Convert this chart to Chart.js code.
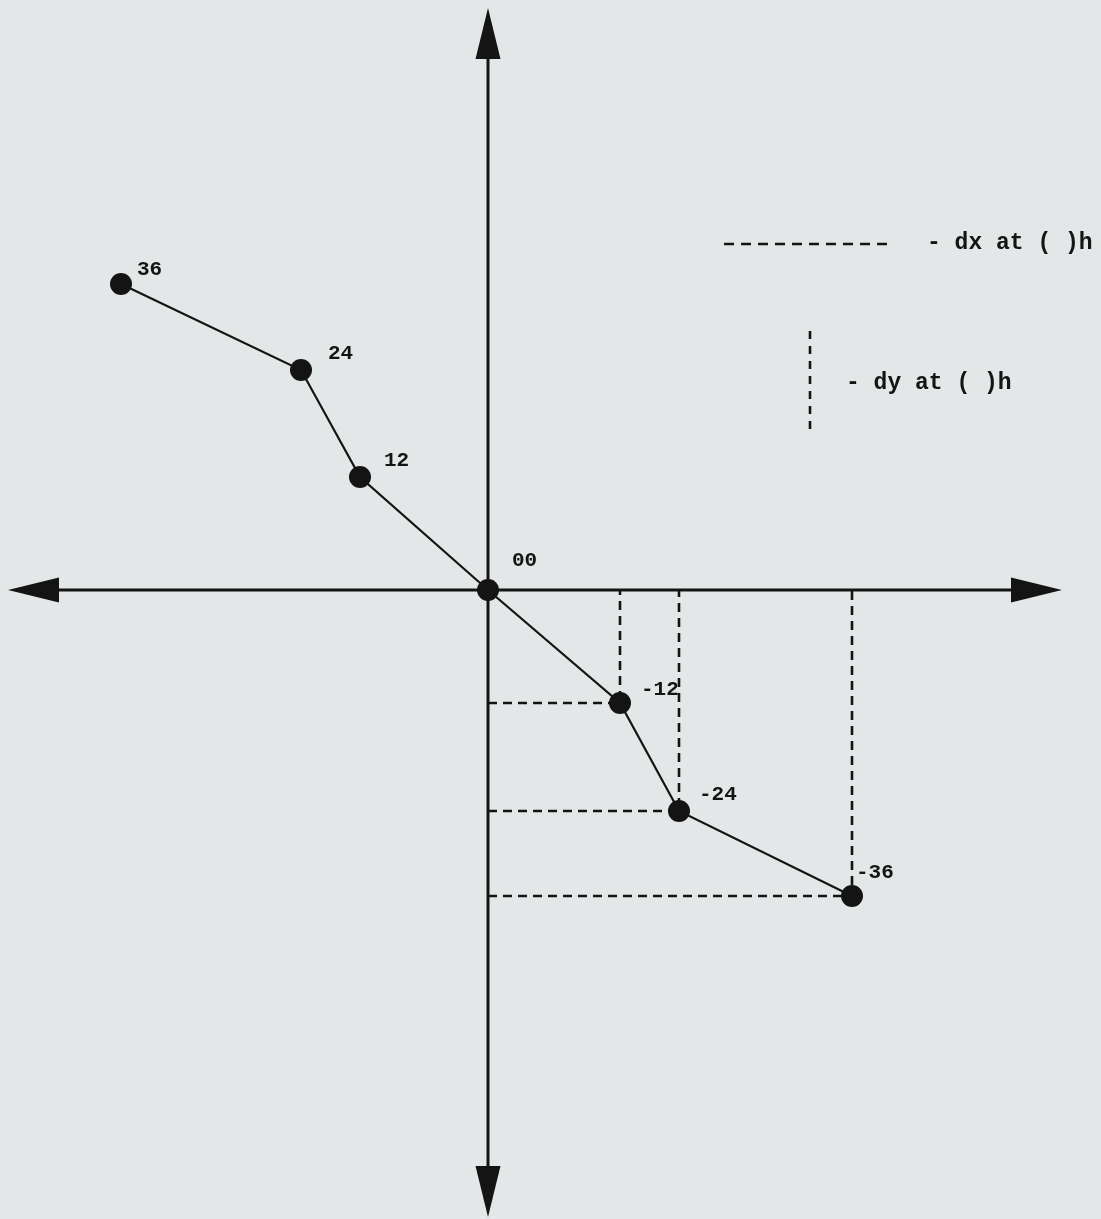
<!DOCTYPE html>
<html>
<head>
<meta charset="utf-8">
<script src="https://cdn.jsdelivr.net/npm/chart.js@4/dist/chart.umd.min.js"></script>
<style>
  html, body { margin: 0; padding: 0; background: rgb(228,231,231); }
  canvas { display: block; }
</style>
</head>
<body>
<canvas id="c" width="1101" height="1219"></canvas>
<script>
// ---- data ----
const pointLabels = ['36', '24', '12', '00', '-12', '-24', '-36'];
const dxValues = [-367, -187, -128, 0, 132, 191, 364];
const dyValues = [306, 220, 113, 0, -113, -221, -306];
const xAxisRange = [-480, 574];
const yAxisRange = [-627, 582];
const xScaleRange = [-488, 613];
const yScaleRange = [-629, 590];
const legendTexts = ['- dx at ( )h', '- dy at ( )h'];

const INK = '#141414';
const seriesData = dxValues.map((x, i) => ({ x: x, y: dyValues[i] }));

const projectionSets = [];
dxValues.forEach((x, i) => {
  if (x > 0) {
    projectionSets.push({
      data: [{ x: 0, y: dyValues[i] }, { x: x, y: dyValues[i] }, { x: x, y: 0 }],
      showLine: true, borderColor: INK, borderWidth: 2.6, borderDash: [9, 6],
      pointRadius: 0, fill: false, tension: 0
    });
  }
});

const labelOffsets = [[16, -14], [27, -16], [24, -16], [24, -29], [21, -13], [20, -16], [4, -23]];

const drawPlugin = {
  id: 'drawPlugin',
  afterDatasetsDraw(chart) {
    const ctx = chart.ctx;
    const xs = chart.scales.x, ys = chart.scales.y;
    ctx.save();
    ctx.fillStyle = INK;
    // arrowheads
    const ox = xs.getPixelForValue(0), oy = ys.getPixelForValue(0);
    const L = 51, W = 12.5;
    const lx = xs.getPixelForValue(xAxisRange[0]);
    const rx = xs.getPixelForValue(xAxisRange[1]);
    const ty = ys.getPixelForValue(yAxisRange[1]);
    const by = ys.getPixelForValue(yAxisRange[0]);
    const tri = (pts) => { ctx.beginPath(); ctx.moveTo(pts[0], pts[1]); ctx.lineTo(pts[2], pts[3]); ctx.lineTo(pts[4], pts[5]); ctx.closePath(); ctx.fill(); };
    tri([lx, oy, lx + L, oy - W, lx + L, oy + W]);
    tri([rx, oy, rx - L, oy - W, rx - L, oy + W]);
    tri([ox, ty, ox - W, ty + L, ox + W, ty + L]);
    tri([ox, by, ox - W, by - L, ox + W, by - L]);

    // point labels
    ctx.font = 'bold 21px "Liberation Mono", "DejaVu Sans Mono", monospace';
    ctx.textBaseline = 'middle';
    ctx.textAlign = 'left';
    pointLabels.forEach((t, i) => {
      const px = xs.getPixelForValue(dxValues[i]);
      const py = ys.getPixelForValue(dyValues[i]);
      ctx.fillText(t, px + labelOffsets[i][0], py + labelOffsets[i][1]);
    });

    // legend
    ctx.strokeStyle = INK;
    ctx.lineWidth = 2.6;
    ctx.setLineDash([10, 7]);
    ctx.beginPath(); ctx.moveTo(724, 244); ctx.lineTo(894, 244); ctx.stroke();
    ctx.setLineDash([8, 7]);
    ctx.beginPath(); ctx.moveTo(810, 331); ctx.lineTo(810, 434); ctx.stroke();
    ctx.setLineDash([]);
    ctx.font = 'bold 23px "Liberation Mono", "DejaVu Sans Mono", monospace';
    ctx.fillText(legendTexts[0], 927, 243);
    ctx.fillText(legendTexts[1], 846, 383);
    ctx.restore();
  }
};

new Chart(document.getElementById('c'), {
  type: 'scatter',
  data: {
    datasets: [
      {
        data: seriesData, showLine: true, borderColor: INK, borderWidth: 2.2,
        pointRadius: 11, pointBackgroundColor: INK, pointBorderColor: INK, pointBorderWidth: 0,
        tension: 0, fill: false
      },
      ...projectionSets,
      {
        data: [{ x: xAxisRange[0] + 20, y: 0 }, { x: xAxisRange[1] - 20, y: 0 }],
        showLine: true, borderColor: INK, borderWidth: 3, pointRadius: 0
      },
      {
        data: [{ x: 0, y: yAxisRange[1] - 20 }, { x: 0, y: yAxisRange[0] + 20 }],
        showLine: true, borderColor: INK, borderWidth: 3, pointRadius: 0
      }
    ]
  },
  options: {
    responsive: false,
    maintainAspectRatio: false,
    animation: false,
    layout: { padding: 0, autoPadding: false },
    plugins: { legend: { display: false }, tooltip: { enabled: false } },
    scales: {
      x: { type: 'linear', min: xScaleRange[0], max: xScaleRange[1], display: false },
      y: { type: 'linear', min: yScaleRange[0], max: yScaleRange[1], display: false }
    }
  },
  plugins: [drawPlugin]
});
</script>
</body>
</html>
